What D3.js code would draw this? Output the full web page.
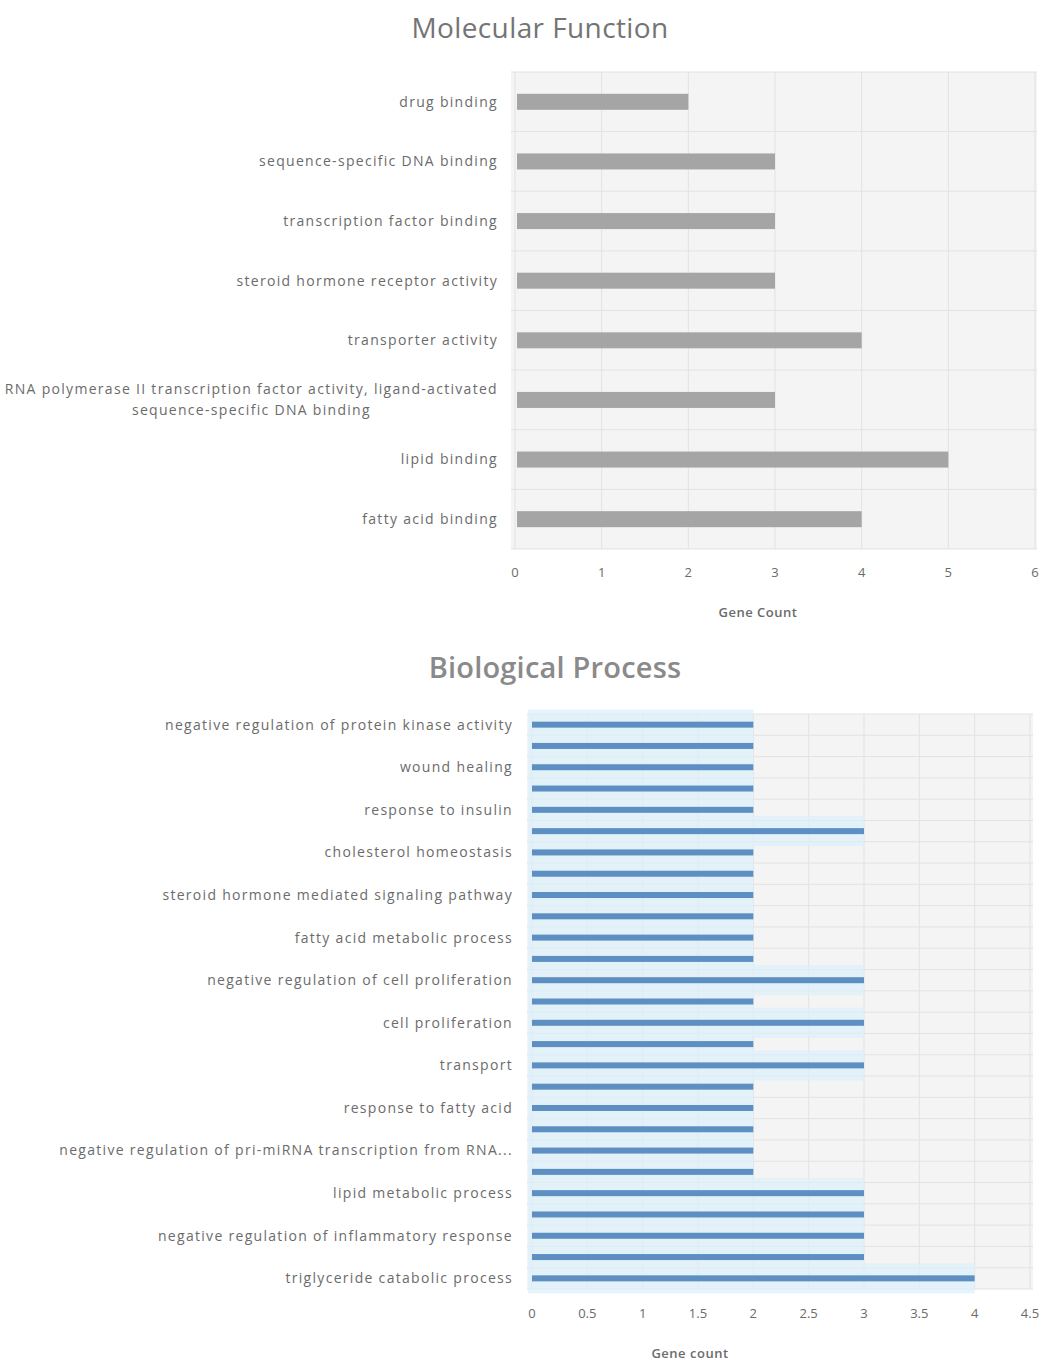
<!DOCTYPE html>
<html>
<head>
<meta charset="utf-8">
<script src="https://cdn.jsdelivr.net/npm/d3@7"></script>
<style>
  html, body { margin: 0; padding: 0; background: #ffffff; }
  svg { display: block; }
  text { font-family: "Open Sans", "Liberation Sans", sans-serif; }
</style>
</head>
<body>
<svg id="chart" width="1043" height="1365"></svg>
<script>
// ---- Molecular Function (GO terms, top to bottom) ----
const mfCategories = [
  "drug binding",
  "sequence-specific DNA binding",
  "transcription factor binding",
  "steroid hormone receptor activity",
  "transporter activity",
  "RNA polymerase II transcription factor activity, ligand-activated sequence-specific DNA binding",
  "lipid binding",
  "fatty acid binding"
];
const mfCounts = [2, 3, 3, 3, 4, 3, 5, 4];
const mfTicks = [0, 1, 2, 3, 4, 5, 6];

// ---- Biological Process (GO terms, top to bottom) ----
const bpCategories = [
  "negative regulation of protein kinase activity",
  "positive regulation of transcription, DNA-templated",
  "wound healing",
  "lipid transport",
  "response to insulin",
  "positive regulation of fatty acid oxidation",
  "cholesterol homeostasis",
  "response to drug",
  "steroid hormone mediated signaling pathway",
  "glucose homeostasis",
  "fatty acid metabolic process",
  "fatty acid transport",
  "negative regulation of cell proliferation",
  "lipid storage",
  "cell proliferation",
  "cellular response to insulin stimulus",
  "transport",
  "regulation of lipid metabolic process",
  "response to fatty acid",
  "fatty acid beta-oxidation",
  "negative regulation of pri-miRNA transcription from RNA...",
  "positive regulation of gene expression",
  "lipid metabolic process",
  "fatty acid oxidation",
  "negative regulation of inflammatory response",
  "positive regulation of transcription from RNA polymerase II promoter",
  "triglyceride catabolic process"
];
const bpCounts = [2, 2, 2, 2, 2, 3, 2, 2, 2, 2, 2, 2, 3, 2, 3, 2, 3, 2, 2, 2, 2, 2, 3, 3, 3, 3, 4];
const bpTicks = [0, 0.5, 1, 1.5, 2, 2.5, 3, 3.5, 4, 4.5];

const svg = d3.select("#chart");
const textColor = "#6b6b6b";
const gridColor = "#e2e2e2";
const labelSize = "14px";
const labelSpacing = "1.3";

// ================= Molecular Function =================
{
  const x = d3.scaleLinear().domain([0, 6]).range([515, 1035]);
  const y = d3.scaleBand().domain(mfCategories).range([72, 549]);
  const g = svg.append("g");

  g.append("text")
    .attr("x", 540).attr("y", 38)
    .attr("text-anchor", "middle")
    .attr("font-size", "28px")
    .attr("fill", "#747474")
    .attr("letter-spacing", "0.4")
    .text("Molecular Function");

  g.append("rect")
    .attr("x", 511).attr("y", 72)
    .attr("width", 526).attr("height", 477)
    .attr("fill", "#f4f4f4");

  // vertical gridlines
  g.append("g").selectAll("line").data(mfTicks).join("line")
    .attr("x1", d => x(d)).attr("x2", d => x(d))
    .attr("y1", 72).attr("y2", 549)
    .attr("stroke", gridColor).attr("stroke-width", 1);

  // horizontal lines between categories
  const mfBounds = mfCategories.map(c => y(c)).concat([y.range()[1]]);
  g.append("g").selectAll("line").data(mfBounds).join("line")
    .attr("x1", 511).attr("x2", 1037)
    .attr("y1", d => d).attr("y2", d => d)
    .attr("stroke", gridColor).attr("stroke-width", 1);

  // bars
  const barH = 16;
  g.append("g").selectAll("rect").data(mfCategories).join("rect")
    .attr("x", x(0) + 2)
    .attr("y", d => y(d) + y.bandwidth() / 2 - barH / 2)
    .attr("width", (d, i) => x(mfCounts[i]) - x(0) - 2)
    .attr("height", barH)
    .attr("fill", "#a5a5a5");

  // category labels (long ones wrap onto a centred second line)
  const labels = g.append("g").selectAll("text").data(mfCategories).join("text")
    .attr("font-size", labelSize)
    .attr("fill", textColor)
    .attr("letter-spacing", labelSpacing);
  labels.each(function (d) {
    const t = d3.select(this);
    const cy = y(d) + y.bandwidth() / 2;
    const splitAt = "ligand-activated";
    if (d.indexOf(splitAt) >= 0) {
      const cut = d.indexOf(splitAt) + splitAt.length;
      const l1 = d.slice(0, cut), l2 = d.slice(cut + 1);
      const a = t.append("tspan").attr("text-anchor", "end").attr("x", 498).attr("y", cy - 11).attr("dy", "0.35em").text(l1);
      const w = a.node().getComputedTextLength();
      t.append("tspan").attr("text-anchor", "middle").attr("x", 498 - w / 2).attr("y", cy + 10).attr("dy", "0.35em").text(l2);
    } else {
      t.attr("text-anchor", "end").attr("x", 498).attr("y", cy).attr("dy", "0.35em").text(d);
    }
  });

  // value axis labels
  g.append("g").selectAll("text").data(mfTicks).join("text")
    .attr("x", d => x(d)).attr("y", 572).attr("dy", "0.35em")
    .attr("text-anchor", "middle")
    .attr("font-size", "13px").attr("fill", textColor)
    .text(d => d3.format("d")(d));

  g.append("text")
    .attr("x", 758).attr("y", 612).attr("dy", "0.35em")
    .attr("text-anchor", "middle")
    .attr("font-size", "13px").attr("font-weight", "600")
    .attr("fill", textColor)
    .attr("letter-spacing", "0.5")
    .text("Gene Count");
}

// ================= Biological Process =================
{
  const x = d3.scaleLinear().domain([0, 4.5]).range([532, 1030]);
  const y = d3.scaleBand().domain(bpCategories).range([714, 1289]);
  const g = svg.append("g");

  g.append("text")
    .attr("x", 555).attr("y", 678)
    .attr("text-anchor", "middle")
    .attr("font-size", "29px")
    .attr("font-weight", "600")
    .attr("fill", "#8a8a8a")
    .attr("letter-spacing", "0.2")
    .text("Biological Process");

  g.append("rect")
    .attr("x", 527).attr("y", 714)
    .attr("width", 506).attr("height", 575)
    .attr("fill", "#f4f4f4");

  g.append("g").selectAll("line").data(bpTicks).join("line")
    .attr("x1", d => x(d)).attr("x2", d => x(d))
    .attr("y1", 714).attr("y2", 1289)
    .attr("stroke", gridColor).attr("stroke-width", 1);

  const bpBounds = bpCategories.map(c => y(c)).concat([y.range()[1]]);
  g.append("g").selectAll("line").data(bpBounds).join("line")
    .attr("x1", 527).attr("x2", 1033)
    .attr("y1", d => d).attr("y2", d => d)
    .attr("stroke", gridColor).attr("stroke-width", 1);

  // soft glow behind each bar
  const glowH = 30;
  g.append("g").attr("opacity", 0.75).selectAll("rect").data(bpCategories).join("rect")
    .attr("x", x(0) - 4)
    .attr("y", d => y(d) + y.bandwidth() / 2 - glowH / 2)
    .attr("width", (d, i) => x(bpCounts[i]) - x(0) + 4)
    .attr("height", glowH)
    .attr("fill", "#def0fb");

  const barH = 6;
  g.append("g").selectAll("rect").data(bpCategories).join("rect")
    .attr("x", x(0))
    .attr("y", d => y(d) + y.bandwidth() / 2 - barH / 2)
    .attr("width", (d, i) => x(bpCounts[i]) - x(0))
    .attr("height", barH)
    .attr("fill", "#5d8fc2");

  // every other category is labelled
  g.append("g").selectAll("text").data(bpCategories.filter((d, i) => i % 2 === 0)).join("text")
    .attr("x", 513)
    .attr("y", d => y(d) + y.bandwidth() / 2)
    .attr("dy", "0.35em")
    .attr("text-anchor", "end")
    .attr("font-size", labelSize)
    .attr("fill", textColor)
    .attr("letter-spacing", labelSpacing)
    .text(d => d);

  g.append("g").selectAll("text").data(bpTicks).join("text")
    .attr("x", d => x(d)).attr("y", 1313).attr("dy", "0.35em")
    .attr("text-anchor", "middle")
    .attr("font-size", "13px").attr("fill", textColor)
    .text(d => d3.format("~g")(d));

  g.append("text")
    .attr("x", 690).attr("y", 1353).attr("dy", "0.35em")
    .attr("text-anchor", "middle")
    .attr("font-size", "13px").attr("font-weight", "600")
    .attr("fill", textColor)
    .attr("letter-spacing", "0.5")
    .text("Gene count");
}
</script>
</body>
</html>
